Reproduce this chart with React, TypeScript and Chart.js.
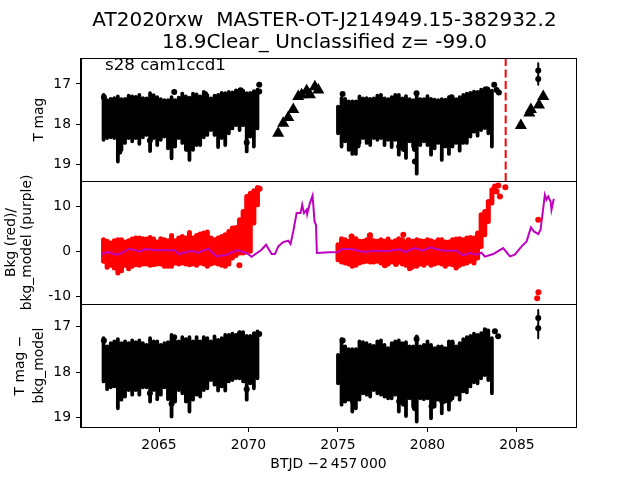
import React, { useEffect, useRef } from "react";
import { Chart, registerables } from "chart.js";

Chart.register(...registerables);

const titleLines = ["AT2020rxw  MASTER-OT-J214949.15-382932.2", "18.9Clear_ Unclassified z= -99.0"];
const sectorLabel = "s28 cam1ccd1";
const xLabel = "BTJD \u22122\u2009457\u2009000";
const xTicks = [2065, 2070, 2075, 2080, 2085];
const magTicks = [17, 18, 19];
const bkgTicks = [-10, 0, 10];

const t1 = [2061.9,2062.1,2062.3,2062.5,2062.7,2062.9,2063.1,2063.3,2063.5,2063.7,2063.9,2064.1,2064.3,2064.5,2064.7,2064.9,2065.1,2065.3,2065.5,2065.7,2065.9,2066.1,2066.3,2066.5,2066.7,2066.9,2067.1,2067.3,2067.5,2067.7,2067.9,2068.1,2068.3,2068.5,2068.7,2068.9,2069.1,2069.3,2069.5,2069.7,2069.9,2070.1,2070.3,2070.5];
const t2 = [2075.0,2075.2,2075.4,2075.6,2075.8,2076.0,2076.2,2076.4,2076.6,2076.8,2077.0,2077.2,2077.4,2077.6,2077.8,2078.0,2078.2,2078.4,2078.6,2078.8,2079.0,2079.2,2079.4,2079.6,2079.8,2080.0,2080.2,2080.4,2080.6,2080.8,2081.0,2081.2,2081.4,2081.6,2081.8,2082.0,2082.2,2082.4,2082.6,2082.8,2083.0,2083.2,2083.4,2083.6];

// T mag panel: upper and lower edges of the dense band
const magHi1 = [17.27,17.40,17.37,17.35,17.31,17.38,17.37,17.29,17.31,17.32,17.27,17.35,17.36,17.23,17.28,17.33,17.38,17.40,17.40,17.33,17.40,17.34,17.24,17.31,17.34,17.24,17.26,17.31,17.20,17.28,17.36,17.29,17.27,17.22,17.23,17.20,17.21,17.16,17.14,17.17,17.23,17.22,17.18,17.14];
const magLo1 = [18.38,18.34,18.32,18.34,18.92,18.63,18.46,18.34,18.42,18.34,18.48,18.32,18.26,18.66,18.34,18.51,18.38,18.30,18.59,18.84,18.55,18.34,18.46,18.63,18.88,18.63,18.51,18.51,18.32,18.26,18.14,18.26,18.56,18.34,18.51,18.22,18.10,18.02,18.14,18.02,18.67,18.30,18.55,18.10];
const magHi2 = [17.56,17.35,17.37,17.43,17.43,17.43,17.31,17.36,17.35,17.37,17.36,17.29,17.27,17.36,17.38,17.33,17.27,17.27,17.36,17.30,17.38,17.40,17.31,17.38,17.38,17.30,17.37,17.39,17.40,17.38,17.39,17.33,17.38,17.38,17.33,17.27,17.24,17.22,17.19,17.20,17.14,17.11,17.12,17.17];
const magLo2 = [18.22,18.55,18.42,18.63,18.73,18.73,18.46,18.34,18.46,18.51,18.34,18.38,18.34,18.51,18.38,18.56,18.38,18.75,18.59,18.83,18.42,18.55,19.22,18.51,18.42,18.51,18.75,18.59,18.46,18.88,18.55,18.73,18.55,18.46,18.65,18.46,18.46,18.30,18.18,18.28,18.14,18.09,18.22,18.55];
const magDotsT = [2061.92,2065.85,2067.57,2069.56,2070.6,2070.6,2062.78,2064.49,2066.64,2069.9,2075.26,2079.39,2081.35,2079.3,2079.3,2078.42,2078.68,2083.3,2075.85,2076.1,2083.73,2083.86,2083.99,2086.19,2086.19];
const magDotsY = [17.33,17.2,17.25,17.16,17.02,17.19,18.68,18.4,18.61,18.45,17.25,17.23,17.33,18.92,18.61,18.55,18.61,17.13,18.55,18.52,17.02,17.15,17.21,16.67,16.88];
const magBarT = [2086.19, 2086.19];
const magBarY = [16.49, 17.02];
const triT = [2071.66,2071.94,2072.22,2072.5,2072.78,2072.97,2073.25,2073.43,2073.71,2073.9,2085.22,2085.69,2085.78,2086.23,2086.47];
const triY = [18.22,17.97,17.83,17.63,17.31,17.27,17.17,17.27,17.07,17.15,18.03,17.72,17.63,17.52,17.31];
const markerT = [2084.37, 2084.37];
const markerY = [16.36, 19.4];

// Bkg panel
const redHi1 = [2.6,2.25,1.9,2.4,2.6,2.6,2.1,2.4,2.76,2.98,2.98,2.83,2.76,3.13,2.76,2.1,2.83,2.6,2.4,3.57,2.4,2.98,3.35,2.98,4.23,2.98,3.57,3.86,4.08,4.3,2.98,2.6,2.98,3.35,3.71,4.45,5.19,5.33,7.03,8.87,12.18,12.9,13.43,14.16];
const redLo1 = [-2.17,-3.5,-3.05,-3.64,-4.75,-4.23,-3.05,-3.79,-3.27,-2.91,-3.05,-2.76,-2.76,-3.05,-2.91,-2.76,-2.76,-3.27,-3.27,-3.27,-2.54,-2.76,-2.54,-2.76,-2.91,-2.76,-3.05,-2.54,-2.76,-3.27,-2.76,-2.54,-2.76,-3.05,-3.27,-2.76,-1.44,-0.85,-0.33,-0.33,-0.11,0.04,6.29,10.34];
const redHi2 = [1.5,2.83,2.6,2.25,2.76,2.83,2.25,2.25,2.6,3.71,2.4,2.25,2.6,2.25,2.76,2.1,2.4,2.83,2.6,1.9,2.25,2.25,2.6,2.4,2.25,2.6,2.4,2.1,2.6,2.6,2.1,2.1,2.6,2.76,2.83,2.6,2.98,3.13,2.98,4.08,8.13,8.87,11.07,13.65];
const redLo2 = [-1.8,-2.32,-2.54,-2.76,-3.27,-3.05,-2.54,-2.32,-2.17,-2.32,-2.32,-2.17,-2.54,-2.32,-2.76,-2.32,-2.17,-2.32,-2.76,-3.05,-3.79,-3.27,-3.27,-2.76,-3.05,-2.54,-3.05,-2.76,-2.54,-2.76,-3.27,-2.76,-2.91,-3.64,-3.05,-2.76,-2.54,-2.17,-2.54,-1.44,1.14,3.71,6.66,10.71];
const redDotsT = [2069.49,2070.62,2075.76,2078.65,2078.93,2076.78,2077.62,2078.24,2079.08,2081.63,2083.77,2083.96,2084.05,2083.86,2084.35,2086.19,2086.2,2086.13];
const redDotsY = [-3.05,13.9,3.35,3.7,2.47,3.57,-3.05,-2.76,-3.5,-3.3,14.4,14.6,12.2,13.3,14.2,7.03,-9.0,-10.34];
const purpleT = [2061.79,2062.17,2062.63,2062.91,2063.34,2063.94,2064.22,2064.87,2065.89,2066.08,2066.82,2067.2,2067.75,2068.22,2068.78,2069.34,2069.9,2070.17,2070.73,2070.98,2071.29,2071.48,2071.66,2071.94,2072.22,2072.35,2072.5,2072.69,2072.91,2073.0,2073.1,2073.25,2073.28,2073.43,2073.58,2073.69,2073.77,2073.82,2074.55,2075.02,2075.2,2075.76,2076.41,2077.16,2077.72,2078.46,2078.74,2079.3,2079.76,2080.14,2080.88,2081.63,2082.0,2082.37,2082.74,2083.02,2083.21,2083.67,2084.23,2084.61,2084.88,2085.26,2085.54,2085.78,2085.95,2086.19,2086.32,2086.56,2086.65,2086.75,2086.88,2086.93,2087.06];
const purpleY = [-0.55,-0.11,-0.70,-0.33,0.63,0.04,0.55,0.26,0.26,-0.55,0.18,-0.26,0.63,-1.07,-0.70,0.26,-0.33,-1.14,0.40,1.51,-0.55,-0.55,1.14,2.10,2.39,1.66,4.45,8.50,8.50,10.34,8.50,9.23,8.28,10.71,12.4,6.66,5.9,-0.33,-0.18,-0.11,0.55,0.55,-0.11,0.18,0.04,0.48,-0.11,0.77,0.18,0.92,0.18,0.18,-0.85,-0.26,-0.70,-0.26,-1.14,-0.55,0.77,-1.07,-0.70,1.14,2.24,5.34,4.45,3.86,4.82,12.55,11.44,12.18,11.07,9.23,11.66];

// T mag - bkg_model panel
const diffHi1 = [17.25,17.43,17.36,17.32,17.27,17.36,17.32,17.36,17.30,17.34,17.30,17.36,17.40,17.25,17.32,17.32,17.40,17.36,17.34,17.18,17.32,17.32,17.23,17.27,17.23,17.32,17.23,17.32,17.23,17.25,17.32,17.21,17.29,17.25,17.18,17.18,17.15,17.18,17.12,17.12,17.20,17.20,17.14,17.10];
const diffLo1 = [18.20,18.37,18.33,18.31,18.79,18.60,18.53,18.39,18.49,18.39,18.49,18.33,18.33,18.64,18.39,18.59,18.49,18.33,18.59,18.97,18.64,18.39,18.46,18.64,18.86,18.60,18.49,18.53,18.39,18.35,18.17,18.27,18.40,18.31,18.40,18.20,18.17,18.13,18.13,18.20,18.60,18.24,18.35,18.13];
const diffHi2 = [17.62,17.27,17.43,17.49,17.49,17.49,17.32,17.34,17.36,17.40,17.42,17.32,17.30,17.40,17.47,17.36,17.32,17.30,17.36,17.34,17.43,17.43,17.21,17.43,17.40,17.32,17.40,17.47,17.43,17.43,17.47,17.32,17.32,17.43,17.36,17.27,17.23,17.20,17.15,17.18,17.14,17.05,17.08,17.25];
const diffLo2 = [18.24,18.71,18.64,18.60,18.86,18.79,18.60,18.46,18.49,18.53,18.39,18.46,18.49,18.53,18.57,18.57,18.49,18.86,18.60,18.96,18.57,18.75,19.08,18.57,18.59,18.57,19.01,18.75,18.60,18.90,18.64,18.82,18.57,18.49,18.60,18.42,18.44,18.31,18.22,18.24,18.13,18.06,18.17,18.46];
const diffDotsT = [2061.92,2065.85,2062.78,2064.49,2065.7,2069.9,2070.6,2069.52,2075.26,2079.39,2081.35,2083.26,2079.3,2080.23,2078.42,2078.68,2075.85,2080.83,2081.25,2083.77,2083.95,2086.19,2086.19];
const diffDotsY = [17.3,17.23,18.57,18.46,18.69,18.37,17.16,17.15,17.3,17.27,17.36,17.10,18.79,18.75,18.64,18.69,18.64,18.64,18.59,17.10,17.21,16.81,17.03];
const diffBarT = [2086.19, 2086.19];
const diffBarY = [16.63, 17.25];

const FONT = "'DejaVu Sans'";

const pairs = (xs: number[], ys: number[]) => xs.map((x, i) => ({ x, y: ys[i] }));
const columns = (ts: number[], hi: number[], lo: number[]) =>
  ts.flatMap((x, i) => [{ x, y: hi[i] }, { x, y: lo[i] }, { x, y: null }]);

const band = (data: any[], yAxisID: string, color: string, width: number, order = 3) => ({
  data, yAxisID, xAxisID: "x", showLine: true, spanGaps: false, pointRadius: 0, order,
  borderColor: color, borderWidth: width, borderCapStyle: "round", backgroundColor: color,
});
const dots = (data: any[], yAxisID: string, color: string, r: number, order = 3, pointStyle = "circle") => ({
  data, yAxisID, xAxisID: "x", showLine: false, pointRadius: r, pointStyle, order,
  pointBackgroundColor: color, pointBorderColor: color, pointBorderWidth: 0,
});

const leftAxis = (weight: number, min: number, max: number, reverse: boolean, ticks: number[], text: any, pad: number, lh: number) => ({
  type: "linear", stack: "panels", stackWeight: 1, weight, position: "left", min, max, reverse,
  afterBuildTicks: (s: any) => { s.ticks = ticks.map((value) => ({ value })); },
  afterFit: (s: any) => { s.width = 72; },
  grid: { drawOnChartArea: false, color: "#000", tickLength: 5, lineWidth: 1 },
  border: { color: "#000", width: 1 },
  ticks: { color: "#000", padding: 5, font: { family: FONT, size: 13.9 }, autoSkip: false },
  title: { display: true, text, color: "#000", font: { family: FONT, size: 13.9, lineHeight: lh }, padding: { top: pad, bottom: 0 } },
});

const overlay = {
  id: "overlay",
  afterDraw(chart: any) {
    const { ctx, chartArea: a, scales } = chart;
    ctx.save();
    ctx.strokeStyle = "#000";
    ctx.lineWidth = 1;
    ["y1", "y2", "y3"].forEach((id) => {
      const s = scales[id];
      ctx.strokeRect(Math.round(a.left) - 0.5, Math.round(s.top) + 0.5, Math.round(a.right - a.left) + 1, Math.round(s.bottom - s.top));
    });
    ctx.fillStyle = "#000";
    ctx.font = `16.67px ${FONT}`;
    ctx.textBaseline = "alphabetic";
    ctx.fillText(sectorLabel, scales.x.getPixelForValue(2061.98), scales.y1.getPixelForValue(16.66));
    ctx.restore();
  },
};

export default function App() {
  const ref = useRef<HTMLCanvasElement>(null);
  useEffect(() => {
    const chart = new Chart(ref.current as HTMLCanvasElement, {
      type: "scatter",
      plugins: [overlay],
      data: {
        datasets: [
          band(columns(t1, magHi1, magLo1), "y1", "#000", 3.8),
          band(columns(t2, magHi2, magLo2), "y1", "#000", 3.8),
          band(pairs(magBarT, magBarY), "y1", "#000", 2),
          dots(pairs(magDotsT, magDotsY), "y1", "#000", 3),
          dots(pairs(triT, triY), "y1", "#000", 7, 3, "triangle"),
          { ...band(pairs(markerT, markerY), "y1", "#ff0000", 2, 1), borderDash: [8, 3.5], borderCapStyle: "butt" },
          band(columns(t1, redHi1, redLo1), "y2", "#ff0000", 5, 3),
          band(columns(t2, redHi2, redLo2), "y2", "#ff0000", 5, 3),
          dots(pairs(redDotsT, redDotsY), "y2", "#ff0000", 3, 3),
          { ...band(pairs(purpleT, purpleY), "y2", "#bf00bf", 2, 1), borderCapStyle: "butt", tension: 0 },
          band(columns(t1, diffHi1, diffLo1), "y3", "#000", 3.8),
          band(columns(t2, diffHi2, diffLo2), "y3", "#000", 3.8),
          band(pairs(diffBarT, diffBarY), "y3", "#000", 2),
          dots(pairs(diffDotsT, diffDotsY), "y3", "#000", 3),
        ] as any,
      },
      options: {
        animation: false,
        responsive: false,
        devicePixelRatio: 1,
        layout: { padding: { left: 9, right: 0, top: 0, bottom: 0 } },
        plugins: {
          legend: { display: false },
          tooltip: { enabled: false },
          title: {
            display: true,
            text: titleLines,
            color: "#000",
            font: { family: FONT, size: 20, lineHeight: 1.1, weight: "normal" },
            padding: { top: 10, bottom: 4 },
          },
        },
        scales: {
          x: {
            type: "linear", position: "bottom", min: 2060.64, max: 2088.3,
            afterBuildTicks: (s: any) => { s.ticks = xTicks.map((value) => ({ value })); },
            afterFit: (s: any) => { s.height = 53; },
            grid: { drawOnChartArea: false, color: "#000", tickLength: 5, lineWidth: 1 },
            border: { color: "#000", width: 1 },
            ticks: { color: "#000", padding: 5, maxRotation: 0, autoSkip: false, font: { family: FONT, size: 13.9 }, callback: (v: any) => String(v) },
            title: { display: true, text: xLabel, color: "#000", font: { family: FONT, size: 13.9 }, padding: { top: 0, bottom: 7 } },
          },
          y1: leftAxis(3, 16.36, 19.4, true, magTicks, "T mag", 21.66, 1.2),
          y2: leftAxis(2, -11.6, 15.6, false, bkgTicks, ["Bkg (red)/", "bkg_model (purple)"], -6, 1.15),
          y3: leftAxis(1, 16.5, 19.2, true, magTicks, ["T mag \u2212", "bkg_model"], 1.5, 1.367),
          yPad: {
            axis: "y", type: "linear", position: "right", display: true,
            afterFit: (s: any) => { s.width = 64; },
            grid: { display: false }, border: { display: false }, ticks: { display: false },
          },
        },
      } as any,
    });
    return () => chart.destroy();
  }, []);
  return <canvas ref={ref} width={640} height={480} style={{ position: "fixed", left: 0, top: 0, width: 640, height: 480, background: "#fff" }} />;
}
